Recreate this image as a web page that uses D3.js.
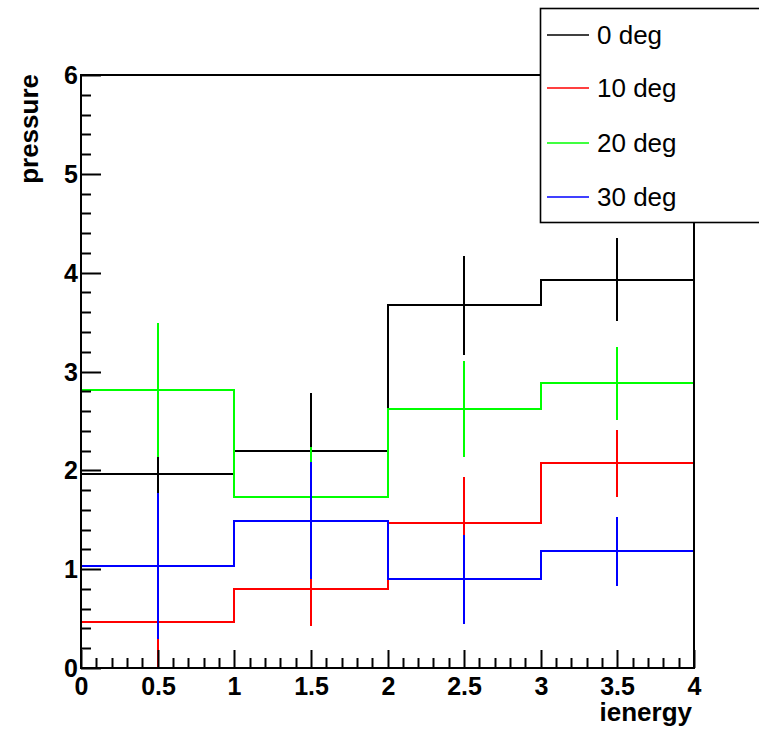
<!DOCTYPE html>
<html>
<head>
<meta charset="utf-8">
<script src="https://cdn.jsdelivr.net/npm/d3@7"></script>
<style>
  body { margin: 0; background: #fff; }
  text { font-family: "Liberation Sans", Arial, sans-serif; }
</style>
</head>
<body>
<div id="chart"></div>
<script>
// bin edges and centers on the ienergy axis
const binEdges = [0, 1, 2, 3, 4];
const binCenters = [0.5, 1.5, 2.5, 3.5];

// histogram contents
const labels = ["0 deg", "10 deg", "20 deg", "30 deg"];
const colors = ["#000000", "#ff0000", "#00ff00", "#0000ff"];
const deg0 = [1.96, 2.20, 3.67, 3.93];
const err0 = [0.65, 0.58, 0.50, 0.42];
const deg10 = [0.47, 0.80, 1.47, 2.07];
const err10 = [0.60, 0.38, 0.46, 0.34];
const deg20 = [2.81, 1.73, 2.62, 2.88];
const err20 = [0.68, 0.51, 0.49, 0.37];
const deg30 = [1.03, 1.49, 0.90, 1.18];
const err30 = [0.74, 0.59, 0.45, 0.35];

// axis ticks
const xMajor = [0, 0.5, 1, 1.5, 2, 2.5, 3, 3.5, 4];
const xLabels = ["0", "0.5", "1", "1.5", "2", "2.5", "3", "3.5", "4"];
const yMajor = [0, 1, 2, 3, 4, 5, 6];
const yLabels = ["0", "1", "2", "3", "4", "5", "6"];

const series = [
  { name: labels[0], color: colors[0], values: deg0, errors: err0 },
  { name: labels[1], color: colors[1], values: deg10, errors: err10 },
  { name: labels[2], color: colors[2], values: deg20, errors: err20 },
  { name: labels[3], color: colors[3], values: deg30, errors: err30 }
];

const W = 759, H = 729;
const frame = { left: 81, right: 694, top: 75, bottom: 668 };

const svg = d3.select("#chart")
  .append("svg")
  .attr("width", W)
  .attr("height", H);

// rounded ranges so later lines fully cover earlier ones
const x = d3.scaleLinear().domain([0, 4]).rangeRound([frame.left, frame.right]);
const y = d3.scaleLinear().domain([0, 6]).rangeRound([frame.bottom, frame.top]);

// clip so that error bars stop at the frame
svg.append("clipPath")
  .attr("id", "clip")
  .append("rect")
  .attr("x", frame.left)
  .attr("y", frame.top)
  .attr("width", frame.right - frame.left)
  .attr("height", frame.bottom - frame.top);

const plot = svg.append("g").attr("clip-path", "url(#clip)");

// step line for each histogram
const step = d3.line()
  .x(d => x(d[0]))
  .y(d => y(d[1]))
  .curve(d3.curveStepAfter);

series.forEach(s => {
  const pts = s.values.map((v, i) => [binEdges[i], v]);
  pts.push([binEdges[binEdges.length - 1], s.values[s.values.length - 1]]);

  plot.append("path")
    .attr("d", step(pts))
    .attr("fill", "none")
    .attr("stroke", s.color)
    .attr("stroke-width", 2);

  // vertical error bars at bin centers
  plot.selectAll(null)
    .data(s.values)
    .join("line")
    .attr("x1", (d, i) => x(binCenters[i]))
    .attr("x2", (d, i) => x(binCenters[i]))
    .attr("y1", (d, i) => y(d + s.errors[i]))
    .attr("y2", (d, i) => y(d - s.errors[i]))
    .attr("stroke", s.color)
    .attr("stroke-width", 2);
});

// frame
svg.append("rect")
  .attr("x", frame.left)
  .attr("y", frame.top)
  .attr("width", frame.right - frame.left)
  .attr("height", frame.bottom - frame.top)
  .attr("fill", "none")
  .attr("stroke", "#000")
  .attr("stroke-width", 2);

// x axis: major and minor ticks pointing inward
const xMinor = d3.range(0, 4.0001, 0.1).filter(v => Math.abs(v * 2 - Math.round(v * 2)) > 1e-6);

svg.append("g")
  .attr("transform", "translate(0," + frame.bottom + ")")
  .call(d3.axisBottom(x).tickValues(xMajor).tickSize(-18).tickPadding(9)
    .tickFormat((d, i) => xLabels[i]));

svg.append("g")
  .attr("transform", "translate(0," + frame.bottom + ")")
  .call(d3.axisBottom(x).tickValues(xMinor).tickSize(-10).tickFormat(""));

// y axis
const yMinor = d3.range(0, 6.0001, 0.2).filter(v => Math.abs(v - Math.round(v)) > 1e-6);

svg.append("g")
  .attr("transform", "translate(" + frame.left + ",0)")
  .call(d3.axisLeft(y).tickValues(yMajor).tickSize(-20).tickPadding(3)
    .tickFormat((d, i) => yLabels[i]));

svg.append("g")
  .attr("transform", "translate(" + frame.left + ",0)")
  .call(d3.axisLeft(y).tickValues(yMinor).tickSize(-10).tickFormat(""));

svg.selectAll(".domain").remove();
svg.selectAll(".tick line").attr("stroke", "#000").attr("stroke-width", 2);
svg.selectAll(".tick text")
  .attr("fill", "#000")
  .style("font-family", "'Liberation Sans', Arial, sans-serif")
  .style("font-size", "25px")
  .style("font-weight", "bold");

// axis titles
svg.append("text")
  .attr("x", frame.right - 2)
  .attr("y", 721)
  .attr("text-anchor", "end")
  .style("font-size", "26px")
  .style("font-weight", "bold")
  .text("ienergy");

svg.append("text")
  .attr("transform", "translate(38," + (frame.top - 1) + ") rotate(-90)")
  .attr("text-anchor", "end")
  .style("font-size", "26px")
  .style("font-weight", "bold")
  .text("pressure");

// legend
const legend = svg.append("g").attr("class", "legend");

legend.append("rect")
  .attr("x", 540.5)
  .attr("y", 8.5)
  .attr("width", 240)
  .attr("height", 214)
  .attr("fill", "#fff")
  .attr("stroke", "#000")
  .attr("stroke-width", 1.6);

const rowY = [35, 88, 143, 197];

series.forEach((s, i) => {
  legend.append("line")
    .attr("x1", 547)
    .attr("x2", 589)
    .attr("y1", rowY[i])
    .attr("y2", rowY[i])
    .attr("stroke", s.color)
    .attr("stroke-width", 1.6);

  legend.append("text")
    .attr("x", 597)
    .attr("y", rowY[i])
    .attr("dy", "0.35em")
    .style("font-size", "26px")
    .text(s.name);
});
</script>
</body>
</html>
